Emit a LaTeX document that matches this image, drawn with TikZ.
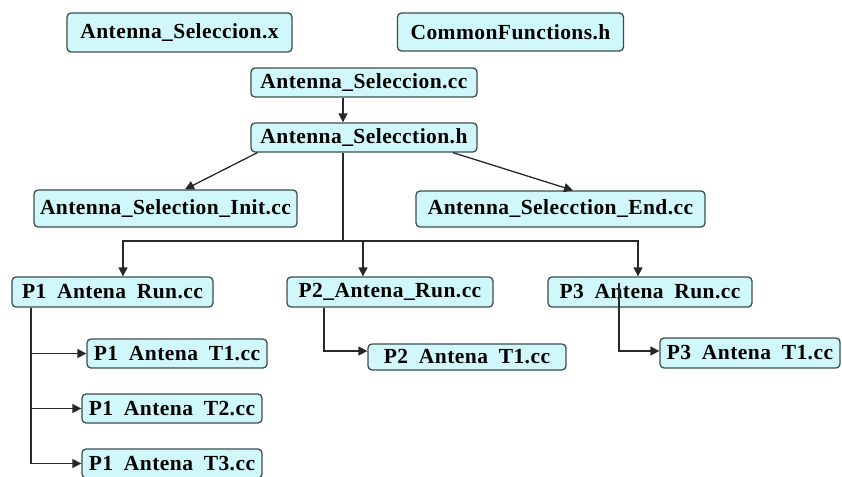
\documentclass[tikz,border=0pt]{standalone}
\usepackage{fontspec}
\setmainfont{Liberation Serif}[LetterSpace=2]
\usetikzlibrary{arrows.meta}
\definecolor{boxfill}{RGB}{208,248,250}
\definecolor{boxline}{RGB}{60,78,78}
\definecolor{conn}{RGB}{40,40,40}
\newcommand{\gap}{\hspace{0.5em}}
\tikzset{
  filebox/.style={draw=boxline, line width=1.3pt, fill=boxfill, rounded corners=4pt,
    inner sep=0pt, align=center, font=\fontsize{21.5}{24}\selectfont\bfseries},
  conline/.style={draw=conn, line width=1.3pt},
  arr/.style={conline, -{Triangle[length=9pt,width=9pt]}}
}
\begin{document}
\begin{tikzpicture}[x=1pt,y=-1pt]
\useasboundingbox (0,0) rectangle (842,476);
\clip (0,0) rectangle (842,476);
\fill[white] (0,0) rectangle (842,476);

\node[filebox, minimum width=225pt, minimum height=39pt] (sx) at (179.5,32.5) {Antenna\_Seleccion.x};
\node[filebox, minimum width=226pt, minimum height=38pt] (cf) at (510.5,32) {CommonFunctions.h};
\node[filebox, minimum width=226pt, minimum height=29pt] (scc) at (364,82.5) {Antenna\_Seleccion.cc};
\node[filebox, minimum width=226pt, minimum height=29pt] (sh) at (364,137.5) {Antenna\_Selecction.h};
\node[filebox, minimum width=263pt, minimum height=37pt] (init) at (165.5,208.5) {Antenna\_Selection\_Init.cc};
\node[filebox, minimum width=289pt, minimum height=36pt] (end) at (560.5,209) {Antenna\_Selecction\_End.cc};
\node[filebox, minimum width=201pt, minimum height=30pt] (p1r) at (112.5,292) {P1\gap Antena\gap Run.cc};
\node[filebox, minimum width=206pt, minimum height=30pt] (p2r) at (390,292) {P2\_Antena\_Run.cc};
\node[filebox, minimum width=204pt, minimum height=30pt] (p3r) at (650,292) {P3\gap Antena\gap Run.cc};
\node[filebox, minimum width=180pt, minimum height=29pt] (p1t1) at (177,353.5) {P1\gap Antena\gap T1.cc};
\node[filebox, minimum width=180pt, minimum height=29pt] (p1t2) at (172,408.5) {P1\gap Antena\gap T2.cc};
\node[filebox, minimum width=180pt, minimum height=29pt] (p1t3) at (172,463.5) {P1\gap Antena\gap T3.cc};
\node[filebox, minimum width=198pt, minimum height=26pt] (p2t1) at (467,357) {P2\gap Antena\gap T1.cc};
\node[filebox, minimum width=180pt, minimum height=30pt] (p3t1) at (750,353) {P3\gap Antena\gap T1.cc};

\coordinate (bus) at (343,241);

\draw[arr] ([xshift=-21pt]scc.south) -- ([xshift=-21pt]sh.north);
\draw[arr] ([xshift=7pt]sh.south west) -- ([xshift=19.5pt]init.north);
\draw[arr] ([xshift=89pt]sh.south) -- ([xshift=12.5pt]end.north);
\draw[conline] ([xshift=-21pt]sh.south) -- (bus);
\draw[arr] (bus) -| ([xshift=10.5pt]p1r.north);
\draw[arr] (bus) -| ([xshift=-27pt]p2r.north);
\draw[arr] (bus) -| ([xshift=-12pt]p3r.north);

\draw[arr] ([xshift=-81.5pt]p1r.south) |- (p1t1.west);
\draw[arr] ([xshift=-81.5pt]p1r.south) |- (p1t2.west);
\draw[arr] ([xshift=-81.5pt]p1r.south) |- (p1t3.west);
\draw[arr] ([xshift=-66pt]p2r.south) |- ([yshift=6pt]p2t1.west);
\draw[arr] ([xshift=-31pt,yshift=9pt]p3r.center) |- ([yshift=2pt]p3t1.west);
\end{tikzpicture}
\end{document}
